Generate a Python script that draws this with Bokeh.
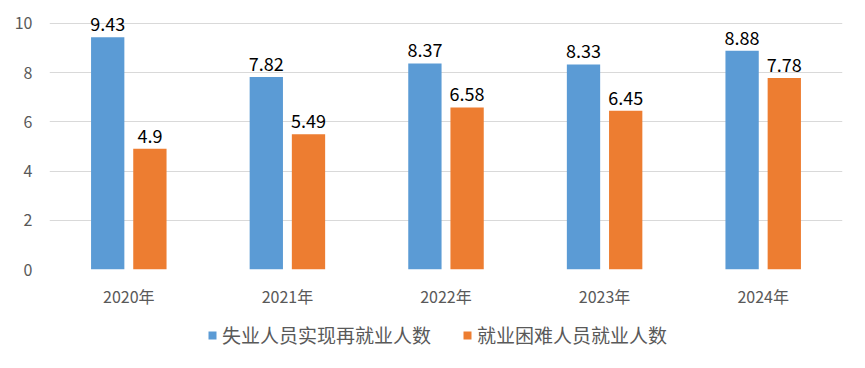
from bokeh.plotting import figure
from bokeh.layouts import column
from bokeh.models import ColumnDataSource, FactorRange, Legend, LegendItem, FixedTicker, Range1d
from bokeh.transform import dodge
from bokeh.embed import file_html
from bokeh.resources import INLINE
from bokeh.core.properties import value

years = ["2020年", "2021年", "2022年", "2023年", "2024年"]
series_names = ["失业人员实现再就业人数", "就业困难人员就业人数"]
reemployed = [9.43, 7.82, 8.37, 8.33, 8.88]
difficult = [4.9, 5.49, 6.58, 6.45, 7.78]
y_ticks = [0, 2, 4, 6, 8, 10]

BLUE = "#5B9BD5"
ORANGE = "#ED7D31"
CJK = "Noto Sans CJK SC"
GREY = "#595959"

src = ColumnDataSource(dict(
    x=years,
    a=reemployed,
    b=difficult,
    la=[str(v) for v in reemployed],
    lb=[str(v) for v in difficult],
))

p = figure(
    x_range=FactorRange(*years), y_range=Range1d(0, 10.6),
    width=849, height=310,
    output_backend="svg", toolbar_location=None,
    min_border_left=49, min_border_right=7, min_border_top=8, min_border_bottom=39,
)
p.outline_line_color = None

ra = p.vbar(x=dodge("x", -0.133, range=p.x_range), top="a", width=0.21, source=src,
            fill_color=BLUE, line_color=None)
rb = p.vbar(x=dodge("x", 0.133, range=p.x_range), top="b", width=0.21, source=src,
            fill_color=ORANGE, line_color=None)

for col, lab, off in (("a", "la", -0.133), ("b", "lb", 0.133)):
    p.text(x=dodge("x", off, range=p.x_range), y=col, text=lab, source=src,
           text_align="center", text_baseline="alphabetic", y_offset=-13,
           text_font=value(CJK), text_font_size="18px", text_color="#000000")

p.yaxis.ticker = FixedTicker(ticks=y_ticks)
p.yaxis.axis_line_color = None
p.yaxis.major_tick_line_color = None
p.yaxis.minor_tick_line_color = None
p.yaxis.major_label_text_font = CJK
p.yaxis.major_label_text_font_size = "16px"
p.yaxis.major_label_text_color = GREY
p.yaxis.major_label_standoff = 11

p.xaxis.axis_line_color = None
p.xaxis.major_tick_line_color = None
p.xaxis.minor_tick_line_color = None
p.xaxis.major_label_text_font = CJK
p.xaxis.major_label_text_font_size = "16px"
p.xaxis.major_label_text_color = GREY
p.xaxis.major_label_standoff = 8

p.xgrid.grid_line_color = None
p.ygrid.grid_line_color = "#D9D9D9"
p.ygrid.grid_line_width = 1

# legend strip below the chart (zero-height proxy bars, only their legend swatches show)
lg = figure(width=849, height=48, output_backend="svg", toolbar_location=None,
            x_range=(0, 1), y_range=(0, 1),
            min_border_left=0, min_border_right=0, min_border_top=0, min_border_bottom=0)
lg.axis.visible = False
lg.grid.visible = False
lg.outline_line_color = None
ga = lg.vbar(x=[-5], top=[0], width=0.01, fill_color=BLUE, line_color=None)
gb = lg.vbar(x=[-5], top=[0], width=0.01, fill_color=ORANGE, line_color=None)
legend = Legend(items=[LegendItem(label=series_names[0], renderers=[ga]),
                       LegendItem(label=series_names[1], renderers=[gb])],
                orientation="horizontal", location=(158, 10),
                label_text_font=CJK, label_text_font_size="19px", label_text_color=GREY,
                glyph_width=10, glyph_height=10, label_height=20, spacing=31, label_standoff=5,
                border_line_color=None, background_fill_alpha=0, margin=0, padding=0)
lg.add_layout(legend, "center")

page = column(p, lg, spacing=0)
open("out.html", "w").write(file_html(page, INLINE))
